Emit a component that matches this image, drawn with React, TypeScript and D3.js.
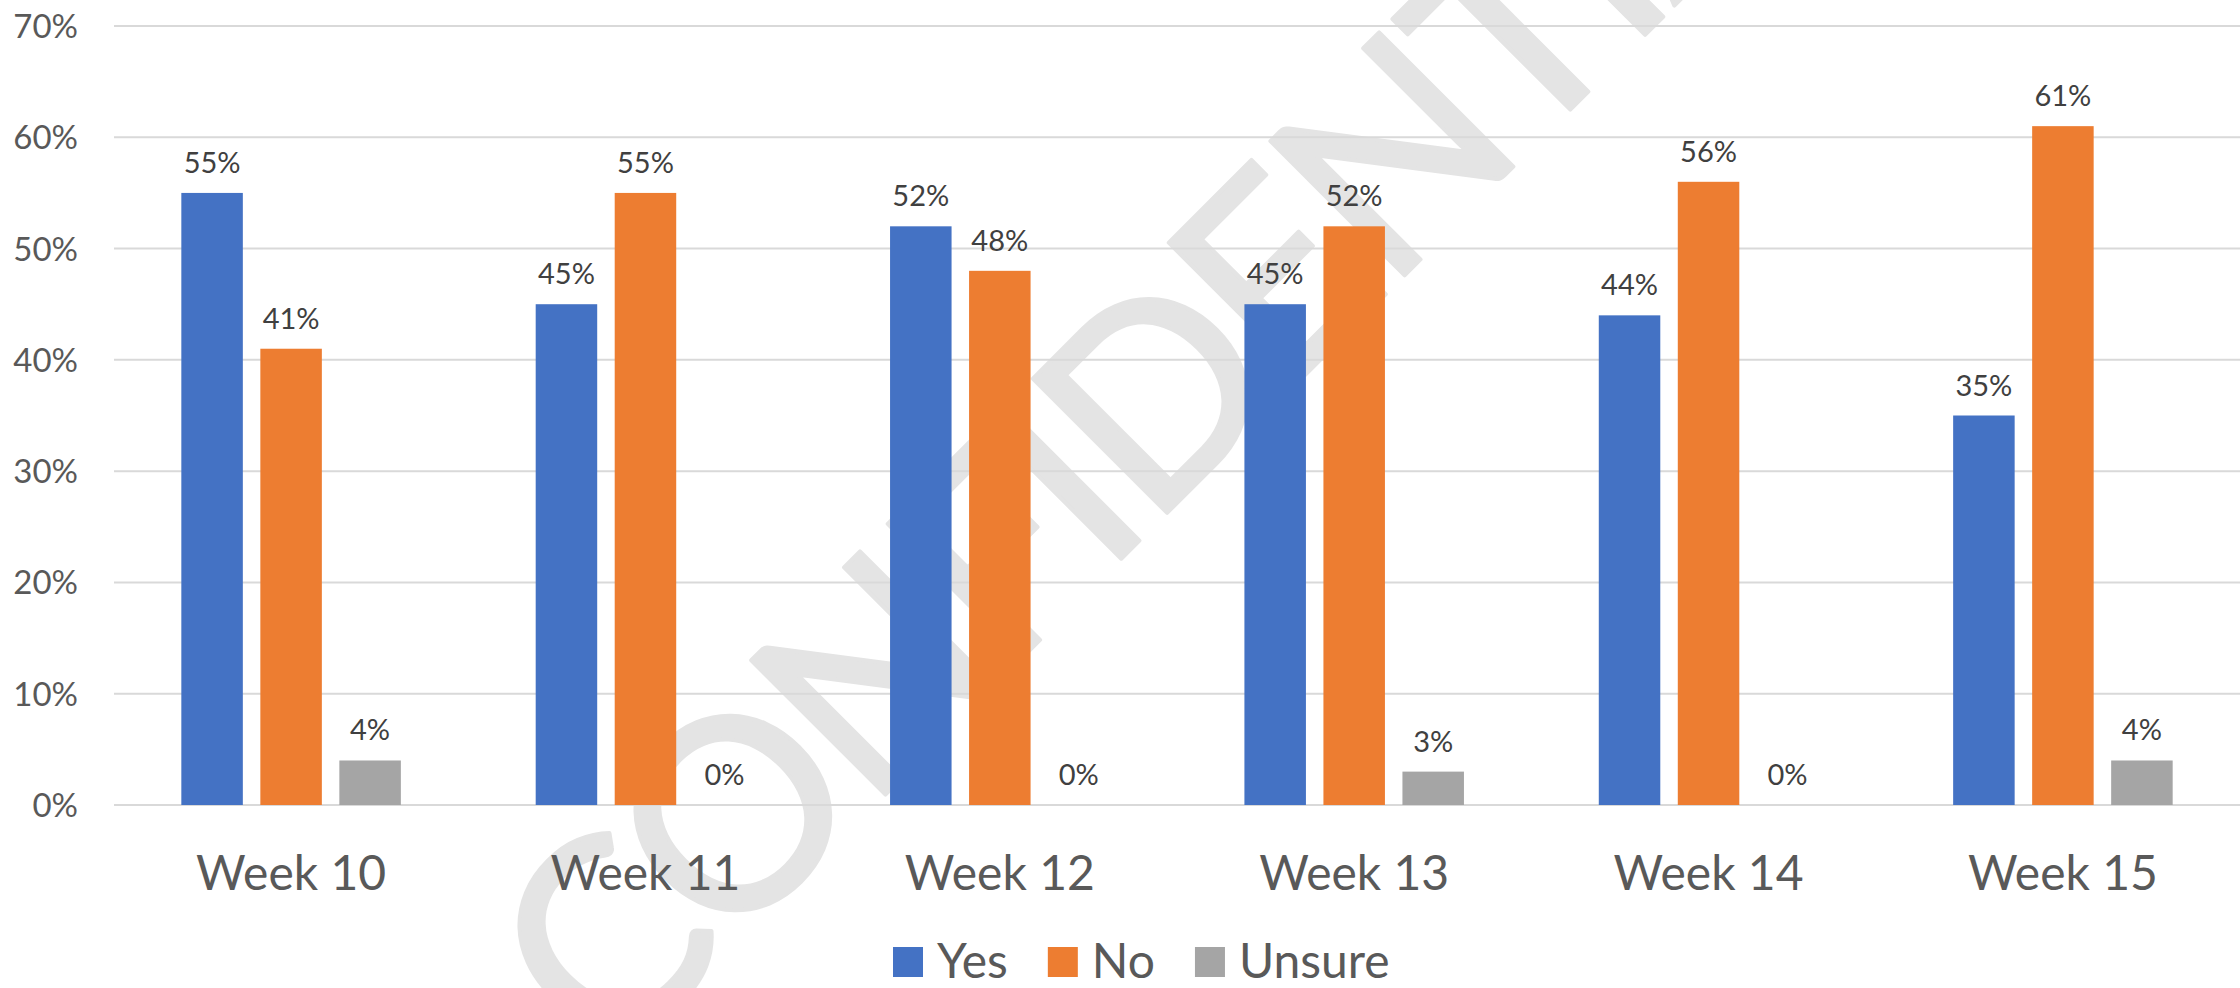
import React, { useEffect, useRef } from "react";
import * as d3 from "d3";

const weeks = ["Week 10", "Week 11", "Week 12", "Week 13", "Week 14", "Week 15"];
const seriesNames = ["Yes", "No", "Unsure"];
const yesValues = [55, 45, 52, 45, 44, 35];
const noValues = [41, 55, 48, 52, 56, 61];
const unsureValues = [4, 0, 0, 3, 0, 4];
const yTicks = [0, 10, 20, 30, 40, 50, 60, 70];
const colors = ["#4472C4", "#ED7D31", "#A5A5A5"];

const W = 2240;
const H = 988;
const FONT = "Lato, 'Open Sans', sans-serif";

const App = () => {
  const svgRef = useRef<SVGSVGElement | null>(null);

  useEffect(() => {
    document.body.style.margin = "0";
    if (!svgRef.current) return;
    const svg = d3.select(svgRef.current);
    svg.selectAll("*").remove();

    const margin = { top: 26, right: 0, bottom: 183, left: 114 };
    const plotBottom = H - margin.bottom;

    const x0 = d3.scaleBand<string>()
      .domain(weeks)
      .range([margin.left, W - margin.right])
      .paddingInner(0.3805)
      .paddingOuter(0.19);

    const x1 = d3.scaleBand<string>()
      .domain(seriesNames)
      .range([0, x0.bandwidth()])
      .paddingInner(0.2215);

    const y = d3.scaleLinear().domain([0, 70]).range([plotBottom, margin.top]);

    const allValues = [yesValues, noValues, unsureValues];

    // watermark behind everything
    svg.append("text")
      .attr("transform", "translate(609,1071) rotate(-45)")
      .attr("font-family", FONT)
      .attr("font-size", 265)
      .attr("fill", "#e4e4e4")
      .attr("stroke", "#e4e4e4")
      .attr("stroke-width", 4)
      .attr("stroke-linejoin", "round")
      .attr("textLength", 1812)
      .attr("lengthAdjust", "spacing")
      .text("CONFIDENTIAL");

    // gridlines
    svg.append("g")
      .selectAll("line")
      .data(yTicks)
      .enter()
      .append("line")
      .attr("x1", margin.left)
      .attr("x2", W - margin.right)
      .attr("y1", d => y(d))
      .attr("y2", d => y(d))
      .attr("stroke", "#d9d9d9")
      .attr("stroke-width", 2);

    // y labels
    svg.append("g")
      .selectAll("text")
      .data(yTicks)
      .enter()
      .append("text")
      .attr("x", 78)
      .attr("y", d => y(d) + 12)
      .attr("text-anchor", "end")
      .attr("font-family", FONT)
      .attr("font-size", 33)
      .attr("fill", "#595959")
      .text(d => `${d}%`);

    // bars + data labels
    const groups = svg.append("g")
      .selectAll("g")
      .data(weeks)
      .enter()
      .append("g")
      .attr("transform", d => `translate(${x0(d)},0)`);

    seriesNames.forEach((name, si) => {
      groups.append("rect")
        .attr("x", x1(name)!)
        .attr("width", x1.bandwidth())
        .attr("y", (_, i) => y(allValues[si][i]))
        .attr("height", (_, i) => plotBottom - y(allValues[si][i]))
        .attr("fill", colors[si]);

      groups.append("text")
        .attr("x", x1(name)! + x1.bandwidth() / 2)
        .attr("y", (_, i) => y(allValues[si][i]) - 20)
        .attr("text-anchor", "middle")
        .attr("font-family", FONT)
        .attr("font-size", 29)
        .attr("fill", "#404040")
        .text((_, i) => `${allValues[si][i]}%`);
    });

    // category labels
    svg.append("g")
      .selectAll("text")
      .data(weeks)
      .enter()
      .append("text")
      .attr("x", d => x0(d)! + x0.bandwidth() / 2)
      .attr("y", 890)
      .attr("text-anchor", "middle")
      .attr("font-family", FONT)
      .attr("font-size", 48)
      .attr("fill", "#595959")
      .text(d => d);

    // legend
    const legend = svg.append("g");
    let lx = 893;
    seriesNames.forEach((name, si) => {
      legend.append("rect")
        .attr("x", lx)
        .attr("y", 947)
        .attr("width", 30)
        .attr("height", 30)
        .attr("fill", colors[si]);
      const t = legend.append("text")
        .attr("x", lx + 44)
        .attr("y", 978)
        .attr("font-family", FONT)
        .attr("font-size", 48)
        .attr("fill", "#595959")
        .text(name);
      const len = (t.node() as SVGTextElement).getComputedTextLength();
      lx = lx + 44 + len + 40;
    });
  }, []);

  return (
    <svg ref={svgRef} width={W} height={H} style={{ display: "block", background: "#fff" }} />
  );
};

export default App;
